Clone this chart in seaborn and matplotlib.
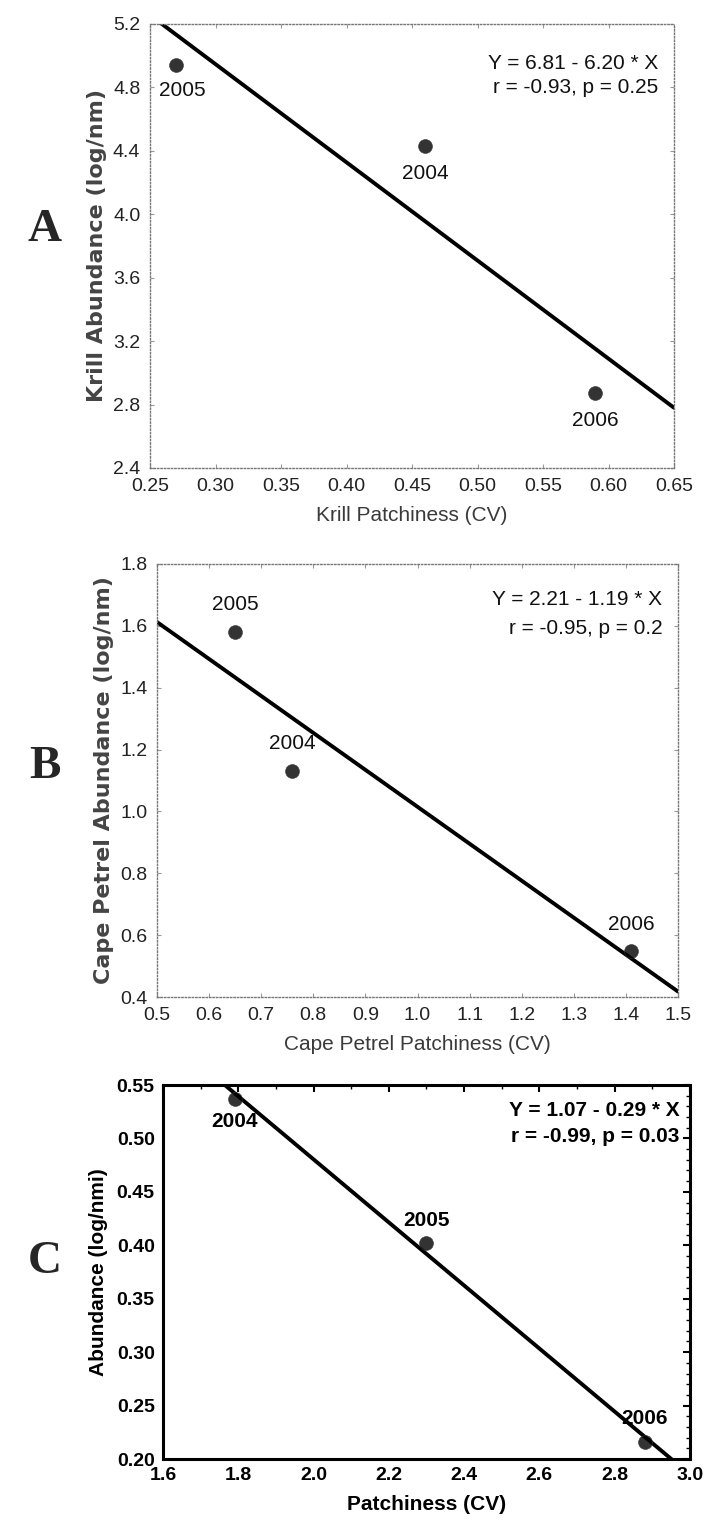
import matplotlib
matplotlib.use("Agg")
import matplotlib.pyplot as plt
import seaborn as sns
import pandas as pd
import numpy as np
from matplotlib.ticker import MultipleLocator, FormatStrFormatter

sns.set_theme(style="white")
plt.rcParams['font.family'] = ['Liberation Sans Narrow', 'Liberation Sans', 'DejaVu Sans']

# ---- data ----
years_a = ["2005", "2004", "2006"]
krill_patch = [0.27, 0.46, 0.59]
krill_abund = [4.94, 4.43, 2.87]

years_b = ["2005", "2004", "2006"]
petrel_patch = [0.65, 0.76, 1.41]
petrel_abund = [1.58, 1.13, 0.55]

years_c = ["2004", "2005", "2006"]
c_patch = [1.79, 2.30, 2.88]
c_abund = [0.537, 0.402, 0.216]

eq_a = ["Y = 6.81 - 6.20 * X", "r = -0.93, p = 0.25"]
eq_b = ["Y = 2.21 - 1.19 * X", "r = -0.95, p = 0.2"]
eq_c = ["Y = 1.07 - 0.29 * X", "r = -0.99, p = 0.03"]

W, H = 706, 1520
fig = plt.figure(figsize=(W / 100, H / 100), dpi=100)

def rect(l, t, r, b):
    return [l / W, 1 - b / H, (r - l) / W, (b - t) / H]

axA = fig.add_axes(rect(150, 24, 674, 468))
axB = fig.add_axes(rect(157, 564, 678, 997))
axC = fig.add_axes(rect(163, 1085, 690, 1459))

narrow = ['Liberation Sans Narrow', 'Liberation Sans', 'DejaVu Sans']
grayc = '#3a3a3a'

def style_dotted(ax):
    for s in ax.spines.values():
        s.set_linestyle((0, (1, 1.5)))
        s.set_color('#777777')
        s.set_linewidth(1.0)
    ax.tick_params(direction='in', length=3, color='#999999', width=0.8,
                   top=True, right=True, bottom=True, left=True,
                   labelsize=14, labelcolor='#222222', pad=7)
    for lab in ax.get_xticklabels() + ax.get_yticklabels():
        lab.set_family(narrow)

def draw(ax, x, y, xlim, ylim):
    ax.set_xlim(*xlim)
    ax.set_ylim(*ylim)
    df = pd.DataFrame({"x": x, "y": y})
    sns.regplot(data=df, x="x", y="y", ax=ax, ci=None, truncate=False,
                scatter_kws=dict(s=100, color='black', edgecolors='#333333', linewidths=0.5, zorder=3),
                line_kws=dict(color='black', lw=2.8, zorder=2))
    ax.set_xlim(*xlim)
    ax.set_ylim(*ylim)

# ---- Panel A ----
draw(axA, krill_patch, krill_abund, (0.25, 0.65), (2.4, 5.2))
axA.xaxis.set_major_locator(MultipleLocator(0.05))
axA.yaxis.set_major_locator(MultipleLocator(0.4))
axA.xaxis.set_major_formatter(FormatStrFormatter('%.2f'))
axA.yaxis.set_major_formatter(FormatStrFormatter('%.1f'))
style_dotted(axA)
axA.set_xlabel("Krill Patchiness (CV)", fontsize=15, color=grayc, family=narrow, labelpad=8)
axA.set_ylabel("Krill Abundance (log/nm)", fontsize=16, color='#444444', fontweight='bold',
               family=['DejaVu Sans'], labelpad=4)
offA = [(0.005, -0.16), (0.0, -0.17), (0.0, -0.17)]
for xi, yi, t, (dx, dy) in zip(krill_patch, krill_abund, years_a, offA):
    axA.text(xi + dx, yi + dy, t, ha='center', va='center', fontsize=15, family=narrow, color='#111111')
axA.text(0.97, 0.912, eq_a[0], transform=axA.transAxes, ha='right', va='center', fontsize=15, family=narrow, color='#111111')
axA.text(0.97, 0.856, eq_a[1], transform=axA.transAxes, ha='right', va='center', fontsize=15, family=narrow, color='#111111')

# ---- Panel B ----
draw(axB, petrel_patch, petrel_abund, (0.5, 1.5), (0.4, 1.8))
axB.xaxis.set_major_locator(MultipleLocator(0.1))
axB.yaxis.set_major_locator(MultipleLocator(0.2))
axB.xaxis.set_major_formatter(FormatStrFormatter('%.1f'))
axB.yaxis.set_major_formatter(FormatStrFormatter('%.1f'))
style_dotted(axB)
axB.set_xlabel("Cape Petrel Patchiness (CV)", fontsize=15, color=grayc, family=narrow, labelpad=8)
axB.set_ylabel("Cape Petrel Abundance (log/nm)", fontsize=16, color='#444444', fontweight='bold',
               family=['DejaVu Sans'], labelpad=4)
offB = [(0.0, 0.09), (0.0, 0.09), (0.0, 0.085)]
for xi, yi, t, (dx, dy) in zip(petrel_patch, petrel_abund, years_b, offB):
    axB.text(xi + dx, yi + dy, t, ha='center', va='center', fontsize=15, family=narrow, color='#111111')
axB.text(0.97, 0.917, eq_b[0], transform=axB.transAxes, ha='right', va='center', fontsize=15, family=narrow, color='#111111')
axB.text(0.97, 0.852, eq_b[1], transform=axB.transAxes, ha='right', va='center', fontsize=15, family=narrow, color='#111111')

# ---- Panel C ----
draw(axC, c_patch, c_abund, (1.6, 3.0), (0.2, 0.55))
axC.xaxis.set_major_locator(MultipleLocator(0.2))
axC.xaxis.set_minor_locator(MultipleLocator(0.1))
axC.yaxis.set_major_locator(MultipleLocator(0.05))
axC.yaxis.set_minor_locator(MultipleLocator(0.01))
axC.xaxis.set_major_formatter(FormatStrFormatter('%.1f'))
axC.yaxis.set_major_formatter(FormatStrFormatter('%.2f'))
for s in axC.spines.values():
    s.set_color('black')
    s.set_linewidth(2.2)
axC.tick_params(which='major', direction='in', length=5, width=1.5, color='black',
                top=True, right=True, labelsize=14, pad=6)
axC.tick_params(which='minor', direction='in', length=3, width=1.0, color='black',
                top=True, right=True)
for lab in axC.get_xticklabels() + axC.get_yticklabels():
    lab.set_family(['Liberation Sans', 'DejaVu Sans'])
    lab.set_fontweight('bold')
    lab.set_color('black')
axC.set_xlabel("Patchiness (CV)", fontsize=15, fontweight='bold', family=['Liberation Sans'], labelpad=8, color='black')
axC.set_ylabel("Abundance (log/nmi)", fontsize=15, fontweight='bold', family=['Liberation Sans'], labelpad=6, color='black')
offC = [(0.0, -0.021), (0.0, 0.021), (0.0, 0.022)]
for xi, yi, t, (dx, dy) in zip(c_patch, c_abund, years_c, offC):
    axC.text(xi + dx, yi + dy, t, ha='center', va='center', fontsize=15, fontweight='bold',
             family=['Liberation Sans'], color='black')
axC.text(0.98, 0.933, eq_c[0], transform=axC.transAxes, ha='right', va='center', fontsize=15,
         fontweight='bold', family=['Liberation Sans'], color='black')
axC.text(0.98, 0.861, eq_c[1], transform=axC.transAxes, ha='right', va='center', fontsize=15,
         fontweight='bold', family=['Liberation Sans'], color='black')

# panel letters
for lbl, yc in [("A", 230), ("B", 767), ("C", 1262)]:
    fig.text(45 / W, 1 - yc / H, lbl, ha='center', va='center', fontsize=34, fontweight='bold',
             family=['Liberation Serif', 'DejaVu Serif'])

fig.savefig("out.png", dpi=100)
